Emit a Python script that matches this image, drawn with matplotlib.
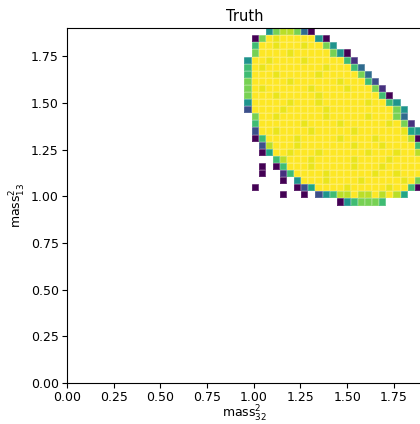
import numpy as np
import matplotlib
matplotlib.use("Agg")
import matplotlib.pyplot as plt

# 50 x 50 histogram over [0, 1.9] x [0, 1.9], only the filled part is listed
n_bins = 50
hist_range = 1.9
first_col = 25  # column of the first character in every row string

# rows from top (row 49) down to row 25, one char per bin from column 25 to 49
# '.' = empty bin, '0'..'9' = count level, 'y' = slightly lower than the max
rows = [
    "...4788730...............",
    ".079y9999940.............",
    ".699y999y9974............",
    ".79999y99999740..........",
    "499y9999y9999961.........",
    "69y99999999y99963........",
    "6999y99999y9999973.......",
    "799999y999999y99962......",
    "79y999999y9999y99971.....",
    "7999y99999y9999999960....",
    "499999y999y999999y9964...",
    "29999y99999y99999999974...",
    ".799y999999y99999y99973..",
    ".6999999y9999y999999y971.",
    ".299y9999y99999y999999y54",
    ".069999y99999y9999y999980",
    "..28999y9999999y999y99996",
    "..0599y999y999999y999y998",
    "....68999y99999y9999y9999",
    "..0.06999y99999y999y99999",
    "..0..169999y999999y99y999",
    ".....0.4999y9999y99999y97",
    ".0.....0259999y99999y9960",
    ".....0..0.2468898898985..",
    ".............0467776.....",
]

level_counts = {'.': 0, '0': 1, '1': 5, '2': 8, '3': 11, '4': 16, '5': 18,
                '6': 21, '7': 24, '8': 27, 'y': 29, '9': 30}

counts = np.zeros((n_bins, n_bins))
for k, line in enumerate(rows):
    r = n_bins - 1 - k
    for i, ch in enumerate(line[:n_bins - first_col]):
        counts[r, first_col + i] = level_counts[ch]

edges = np.linspace(0, hist_range, n_bins + 1)
masked = np.ma.masked_equal(counts, 0)

fig = plt.figure(figsize=(4.2, 4.24), dpi=100)
ax = fig.add_axes([0.1595, 0.0967, 0.845, 0.837])
ax.pcolormesh(edges, edges, masked, cmap='viridis',
              edgecolor=(1, 1, 1, 0.15), linewidth=0.3)
ax.set_xlim(0, hist_range)
ax.set_ylim(0, hist_range)
ax.tick_params(labelsize=9, pad=2.5)
ax.set_title('Truth', fontsize=10.5, pad=5)
ax.set_xlabel(r'mass$_{32}^{2}$', fontsize=9, labelpad=0)
ax.set_ylabel(r'mass$_{13}^{2}$', fontsize=9, labelpad=2)

fig.savefig('out.png', dpi=100)
